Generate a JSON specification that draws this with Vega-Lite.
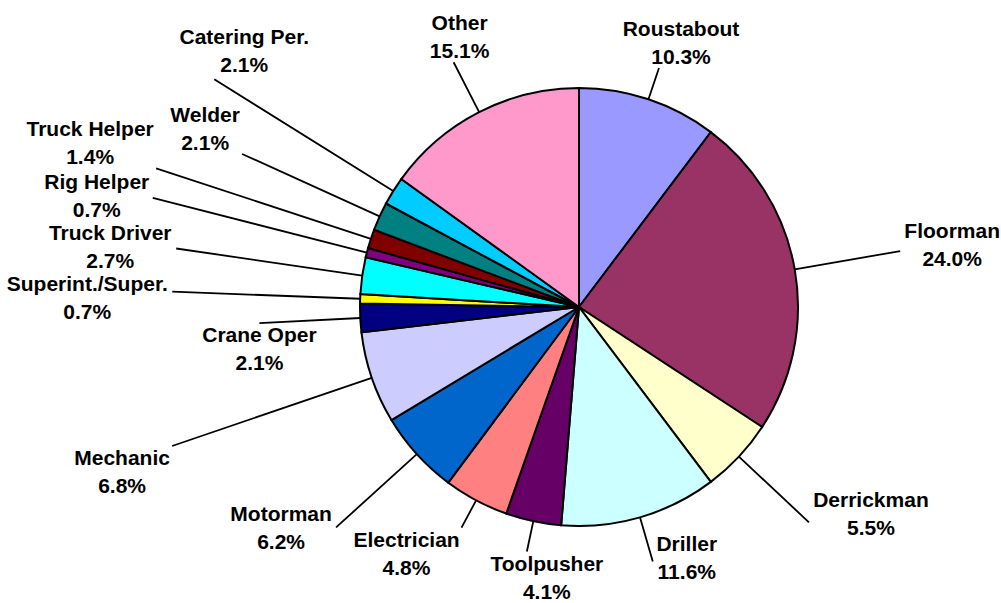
{
  "$schema": "https://vega.github.io/schema/vega-lite/v6.json",
  "width": 844,
  "height": 592,
  "autosize": {"type": "none"},
  "padding": {"left": 157, "top": 11, "right": 0, "bottom": 0},
  "background": "white",
  "config": {
    "view": {"stroke": null},
    "text": {"font": "Liberation Sans", "fontSize": 21, "fontWeight": "bold", "lineHeight": 28, "lineBreak": "\n", "align": "center", "baseline": "top", "color": "black"},
    "arc": {"stroke": "black"}
  },
  "data": {
    "values": [
      {"role": "Roustabout", "pct": 10.3, "order": 1},
      {"role": "Floorman", "pct": 24.0, "order": 2},
      {"role": "Derrickman", "pct": 5.5, "order": 3},
      {"role": "Driller", "pct": 11.6, "order": 4},
      {"role": "Toolpusher", "pct": 4.1, "order": 5},
      {"role": "Electrician", "pct": 4.8, "order": 6},
      {"role": "Motorman", "pct": 6.2, "order": 7},
      {"role": "Mechanic", "pct": 6.8, "order": 8},
      {"role": "Crane Oper", "pct": 2.1, "order": 9},
      {"role": "Superint./Super.", "pct": 0.7, "order": 10},
      {"role": "Truck Driver", "pct": 2.7, "order": 11},
      {"role": "Rig Helper", "pct": 0.7, "order": 12},
      {"role": "Truck Helper", "pct": 1.4, "order": 13},
      {"role": "Welder", "pct": 2.1, "order": 14},
      {"role": "Catering Per.", "pct": 2.1, "order": 15},
      {"role": "Other", "pct": 15.1, "order": 16}
    ]
  },
  "transform": [
    {"calculate": "datum.role + '\\n' + format(datum.pct, '.1f') + '%'", "as": "label"}
  ],
  "encoding": {
    "theta": {"field": "pct", "type": "quantitative", "stack": true},
    "order": {"field": "order", "type": "quantitative", "sort": "ascending"},
    "detail": {"field": "role", "type": "nominal"}
  },
  "layer": [
    {
      "mark": {"type": "arc", "radius": 219, "stroke": "black", "strokeWidth": 2},
      "encoding": {
        "color": {
          "field": "role",
          "type": "nominal",
          "legend": null,
          "scale": {
            "domain": ["Roustabout", "Floorman", "Derrickman", "Driller", "Toolpusher", "Electrician", "Motorman", "Mechanic", "Crane Oper", "Superint./Super.", "Truck Driver", "Rig Helper", "Truck Helper", "Welder", "Catering Per.", "Other"],
            "range": ["#9999FF", "#993366", "#FFFFCC", "#CCFFFF", "#660066", "#FF8080", "#0066CC", "#CCCCFF", "#000080", "#FFFF00", "#00FFFF", "#800080", "#800000", "#008080", "#00CCFF", "#FF99CC"]
          }
        }
      }
    },
    {"layer": [
      {"mark": {"type": "arc", "padAngle": 3, "radius": 252, "radius2": 219, "filled": false, "strokeWidth": 1.8}, "encoding": {"strokeOpacity": {"condition": {"test": "datum.role === 'Roustabout'", "value": 1}, "value": 0}}},
      {"mark": {"type": "text", "radius": 252, "dx": 22, "dy": -49}, "encoding": {"text": {"condition": {"test": "datum.role === 'Roustabout'", "field": "label", "type": "nominal"}, "value": ""}}}
    ]},
    {"layer": [
      {"mark": {"type": "arc", "padAngle": 3, "radius": 326, "radius2": 219, "filled": false, "strokeWidth": 1.8}, "encoding": {"strokeOpacity": {"condition": {"test": "datum.role === 'Floorman'", "value": 1}, "value": 0}}},
      {"mark": {"type": "text", "radius": 326, "dx": 52, "dy": -30}, "encoding": {"text": {"condition": {"test": "datum.role === 'Floorman'", "field": "label", "type": "nominal"}, "value": ""}}}
    ]},
    {"layer": [
      {"mark": {"type": "arc", "padAngle": 3, "radius": 315, "radius2": 219, "filled": false, "strokeWidth": 1.8}, "encoding": {"strokeOpacity": {"condition": {"test": "datum.role === 'Derrickman'", "value": 1}, "value": 0}}},
      {"mark": {"type": "text", "radius": 315, "dx": 62, "dy": -32}, "encoding": {"text": {"condition": {"test": "datum.role === 'Derrickman'", "field": "label", "type": "nominal"}, "value": ""}}}
    ]},
    {"layer": [
      {"mark": {"type": "arc", "padAngle": 3, "radius": 265, "radius2": 219, "filled": false, "strokeWidth": 1.8}, "encoding": {"strokeOpacity": {"condition": {"test": "datum.role === 'Driller'", "value": 1}, "value": 0}}},
      {"mark": {"type": "text", "radius": 265, "dx": 34, "dy": -28}, "encoding": {"text": {"condition": {"test": "datum.role === 'Driller'", "field": "label", "type": "nominal"}, "value": ""}}}
    ]},
    {"layer": [
      {"mark": {"type": "arc", "padAngle": 3, "radius": 250, "radius2": 219, "filled": false, "strokeWidth": 1.8}, "encoding": {"strokeOpacity": {"condition": {"test": "datum.role === 'Toolpusher'", "value": 1}, "value": 0}}},
      {"mark": {"type": "text", "radius": 250, "dx": 20, "dy": 2}, "encoding": {"text": {"condition": {"test": "datum.role === 'Toolpusher'", "field": "label", "type": "nominal"}, "value": ""}}}
    ]},
    {"layer": [
      {"mark": {"type": "arc", "padAngle": 3, "radius": 250, "radius2": 219, "filled": false, "strokeWidth": 1.8}, "encoding": {"strokeOpacity": {"condition": {"test": "datum.role === 'Electrician'", "value": 1}, "value": 0}}},
      {"mark": {"type": "text", "radius": 250, "dx": -55, "dy": 2}, "encoding": {"text": {"condition": {"test": "datum.role === 'Electrician'", "field": "label", "type": "nominal"}, "value": ""}}}
    ]},
    {"layer": [
      {"mark": {"type": "arc", "padAngle": 3, "radius": 328, "radius2": 219, "filled": false, "strokeWidth": 1.8}, "encoding": {"strokeOpacity": {"condition": {"test": "datum.role === 'Motorman'", "value": 1}, "value": 0}}},
      {"mark": {"type": "text", "radius": 328, "dx": -55, "dy": -23}, "encoding": {"text": {"condition": {"test": "datum.role === 'Motorman'", "field": "label", "type": "nominal"}, "value": ""}}}
    ]},
    {"layer": [
      {"mark": {"type": "arc", "padAngle": 3, "radius": 430, "radius2": 219, "filled": false, "strokeWidth": 1.8}, "encoding": {"strokeOpacity": {"condition": {"test": "datum.role === 'Mechanic'", "value": 1}, "value": 0}}},
      {"mark": {"type": "text", "radius": 430, "dx": -50, "dy": 2}, "encoding": {"text": {"condition": {"test": "datum.role === 'Mechanic'", "field": "label", "type": "nominal"}, "value": ""}}}
    ]},
    {"layer": [
      {"mark": {"type": "arc", "padAngle": 3, "radius": 320, "radius2": 219, "filled": false, "strokeWidth": 1.8}, "encoding": {"strokeOpacity": {"condition": {"test": "datum.role === 'Crane Oper'", "value": 1}, "value": 0}}},
      {"mark": {"type": "text", "radius": 320, "dx": 0, "dy": 2}, "encoding": {"text": {"condition": {"test": "datum.role === 'Crane Oper'", "field": "label", "type": "nominal"}, "value": ""}}}
    ]},
    {"layer": [
      {"mark": {"type": "arc", "padAngle": 3, "radius": 407, "radius2": 219, "filled": false, "strokeWidth": 1.8}, "encoding": {"strokeOpacity": {"condition": {"test": "datum.role === 'Superint./Super.'", "value": 1}, "value": 0}}},
      {"mark": {"type": "text", "radius": 407, "dx": -85, "dy": -18}, "encoding": {"text": {"condition": {"test": "datum.role === 'Superint./Super.'", "field": "label", "type": "nominal"}, "value": ""}}}
    ]},
    {"layer": [
      {"mark": {"type": "arc", "padAngle": 3, "radius": 407, "radius2": 219, "filled": false, "strokeWidth": 1.8}, "encoding": {"strokeOpacity": {"condition": {"test": "datum.role === 'Truck Driver'", "value": 1}, "value": 0}}},
      {"mark": {"type": "text", "radius": 407, "dx": -66, "dy": -26}, "encoding": {"text": {"condition": {"test": "datum.role === 'Truck Driver'", "field": "label", "type": "nominal"}, "value": ""}}}
    ]},
    {"layer": [
      {"mark": {"type": "arc", "padAngle": 3, "radius": 440, "radius2": 219, "filled": false, "strokeWidth": 1.8}, "encoding": {"strokeOpacity": {"condition": {"test": "datum.role === 'Rig Helper'", "value": 1}, "value": 0}}},
      {"mark": {"type": "text", "radius": 440, "dx": -56, "dy": -26}, "encoding": {"text": {"condition": {"test": "datum.role === 'Rig Helper'", "field": "label", "type": "nominal"}, "value": ""}}}
    ]},
    {"layer": [
      {"mark": {"type": "arc", "padAngle": 3, "radius": 445, "radius2": 219, "filled": false, "strokeWidth": 1.8}, "encoding": {"strokeOpacity": {"condition": {"test": "datum.role === 'Truck Helper'", "value": 1}, "value": 0}}},
      {"mark": {"type": "text", "radius": 445, "dx": -66, "dy": -49}, "encoding": {"text": {"condition": {"test": "datum.role === 'Truck Helper'", "field": "label", "type": "nominal"}, "value": ""}}}
    ]},
    {"layer": [
      {"mark": {"type": "arc", "padAngle": 3, "radius": 370, "radius2": 219, "filled": false, "strokeWidth": 1.8}, "encoding": {"strokeOpacity": {"condition": {"test": "datum.role === 'Welder'", "value": 1}, "value": 0}}},
      {"mark": {"type": "text", "radius": 370, "dx": -37, "dy": -49}, "encoding": {"text": {"condition": {"test": "datum.role === 'Welder'", "field": "label", "type": "nominal"}, "value": ""}}}
    ]},
    {"layer": [
      {"mark": {"type": "arc", "padAngle": 3, "radius": 430, "radius2": 219, "filled": false, "strokeWidth": 1.8}, "encoding": {"strokeOpacity": {"condition": {"test": "datum.role === 'Catering Per.'", "value": 1}, "value": 0}}},
      {"mark": {"type": "text", "radius": 430, "dx": 30, "dy": -52}, "encoding": {"text": {"condition": {"test": "datum.role === 'Catering Per.'", "field": "label", "type": "nominal"}, "value": ""}}}
    ]},
    {"layer": [
      {"mark": {"type": "arc", "padAngle": 3, "radius": 275, "radius2": 219, "filled": false, "strokeWidth": 1.8}, "encoding": {"strokeOpacity": {"condition": {"test": "datum.role === 'Other'", "value": 1}, "value": 0}}},
      {"mark": {"type": "text", "radius": 275, "dx": 6, "dy": -49}, "encoding": {"text": {"condition": {"test": "datum.role === 'Other'", "field": "label", "type": "nominal"}, "value": ""}}}
    ]}
  ]
}
